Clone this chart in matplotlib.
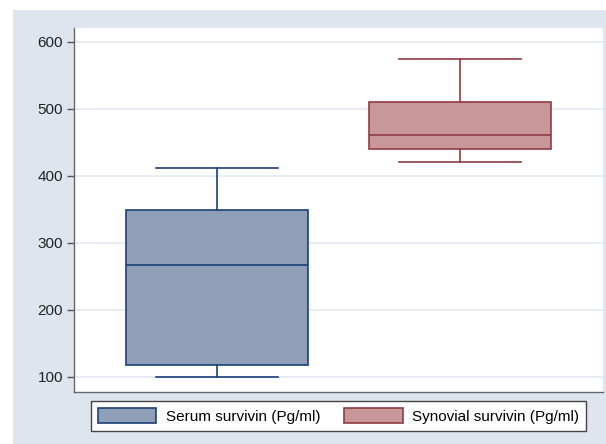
import matplotlib.pyplot as plt
from matplotlib.patches import Rectangle, Patch

plt.rcParams['font.family'] = ['Liberation Sans', 'DejaVu Sans']

groups = ['Serum survivin (Pg/ml)', 'Synovial survivin (Pg/ml)']
whislo = [100, 421]
q1 = [118, 440]
med = [267, 461]
q3 = [349, 510]
whishi = [412, 575]
yticks = [100, 200, 300, 400, 500, 600]

fills = ['#909fb8', '#c7979a']
edges = ['#1a3f78', '#933a42']

fig = plt.figure(figsize=(6.06, 4.44), dpi=100)
# grey-blue panel behind the plot, leaving a white strip on the top and left
fig.patches.append(Rectangle((13 / 606, 0), 593 / 606, 1 - 10 / 444,
                             transform=fig.transFigure, facecolor='#dfe5ef',
                             edgecolor='none', zorder=-5))
ax = fig.add_axes([74 / 606, 1 - 392 / 444, 529 / 606, 365 / 444])
ax.set_zorder(2)

stats = []
for i in range(2):
    stats.append(dict(whislo=whislo[i], q1=q1[i], med=med[i], q3=q3[i],
                      whishi=whishi[i], fliers=[], label=groups[i]))

for i in range(2):
    ax.bxp([stats[i]], positions=[i + 1], widths=0.75, capwidths=0.5,
           patch_artist=True, showfliers=False,
           boxprops=dict(facecolor=fills[i], edgecolor=edges[i], linewidth=1.2),
           medianprops=dict(color=edges[i], linewidth=1.2),
           whiskerprops=dict(color=edges[i], linewidth=1.2),
           capprops=dict(color=edges[i], linewidth=1.2))

ax.set_xlim(1 - 143 / 243, 2 + 143 / 243)
ax.set_ylim(77.6, 622)
ax.set_xticks([])
ax.set_yticks(yticks)
ax.tick_params(axis='y', direction='out', length=5, width=1, color='#555555',
               labelsize=11, labelcolor='#222222', pad=3)
ax.yaxis.grid(True, color='#e1e7f2', linewidth=1.2)
ax.set_axisbelow(True)
for side in ['left', 'bottom']:
    ax.spines[side].set_color('#666666')
    ax.spines[side].set_linewidth(1)
for side in ['top', 'right']:
    ax.spines[side].set_color('#e1e7f2')

handles = [Patch(facecolor=fills[i], edgecolor=edges[i], linewidth=1.2) for i in range(2)]
leg = fig.legend(handles, groups, loc='center', ncol=2,
                 bbox_to_anchor=((90 + 587) / 2 / 606, 1 - 416 / 444),
                 fontsize=11, frameon=True, fancybox=False,
                 handlelength=3.8, handleheight=1.1, handletextpad=0.6,
                 columnspacing=1.6, borderpad=0.45,
                 edgecolor='#444444', facecolor='white', framealpha=1)
leg.get_frame().set_linewidth(1)

fig.savefig('out.png', dpi=100)
